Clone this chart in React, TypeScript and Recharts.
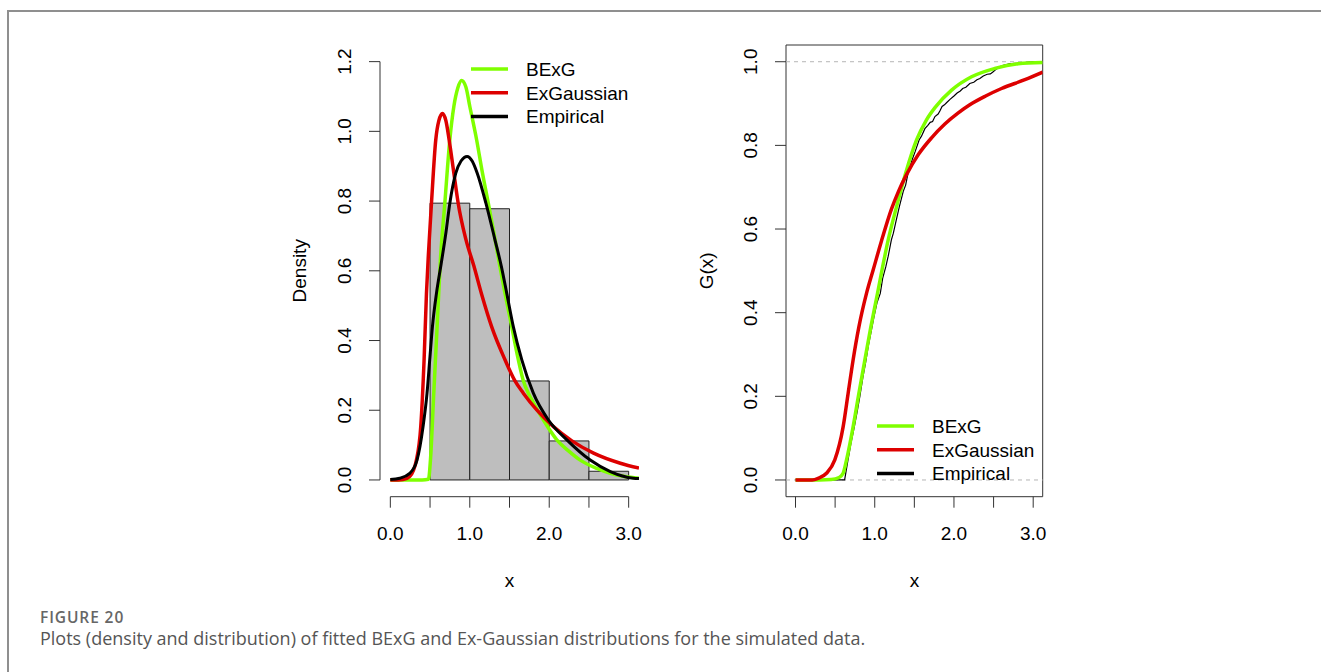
import React from "react"
import {
  ComposedChart,
  Line,
  XAxis,
  YAxis,
  ReferenceArea,
  ReferenceLine,
  Legend,
  Label,
} from "recharts"

const FONT = '"Liberation Sans", Arial, Helvetica, sans-serif'
const GREEN = "#7FFF00"
const RED = "#DD0000"
const AXIS = "#333"

// histogram of the simulated data (density scale)
const binEdges = [0.5, 1.0, 1.5, 2.0, 2.5, 3.0]
const binDensity = [0.794, 0.778, 0.284, 0.112, 0.025]

// fitted / empirical densities
const bexgPdf: [number, number][] = [
  [0, 0], [0.2, 0], [0.4, 0], [0.48, 0.002], [0.505, 0.057], [0.547, 0.25],
  [0.589, 0.44], [0.63, 0.63], [0.686, 0.794], [0.749, 0.976], [0.8, 1.072],
  [0.85, 1.125], [0.896, 1.146], [0.95, 1.128], [1.0, 1.072], [1.086, 0.976],
  [1.16, 0.88], [1.233, 0.794], [1.31, 0.7], [1.389, 0.6], [1.443, 0.536],
  [1.528, 0.44], [1.611, 0.345], [1.675, 0.284], [1.737, 0.249], [1.8, 0.222],
  [1.927, 0.172], [2.096, 0.115], [2.25, 0.082], [2.39, 0.057], [2.6, 0.033],
  [2.77, 0.019], [2.95, 0.01], [3.13, 0.005],
]

const exgPdf: [number, number][] = [
  [0, 0], [0.1, 0], [0.16, 0.001], [0.244, 0.01], [0.328, 0.057], [0.383, 0.153],
  [0.425, 0.345], [0.455, 0.536], [0.48, 0.65], [0.518, 0.794], [0.572, 0.976],
  [0.61, 1.03], [0.656, 1.051], [0.7, 1.03], [0.74, 0.976], [0.8, 0.88],
  [0.854, 0.794], [0.951, 0.69], [1.05, 0.615], [1.149, 0.533], [1.275, 0.44],
  [1.443, 0.345], [1.569, 0.284], [1.674, 0.249], [1.843, 0.201], [2.053, 0.153],
  [2.285, 0.112], [2.558, 0.077], [2.895, 0.048], [3.13, 0.034],
]

const kdePdf: [number, number][] = [
  [0, 0.001], [0.118, 0.005], [0.244, 0.019], [0.336, 0.057], [0.412, 0.153],
  [0.462, 0.249], [0.496, 0.345], [0.53, 0.44], [0.581, 0.536], [0.64, 0.62],
  [0.7, 0.71], [0.749, 0.794], [0.824, 0.88], [0.89, 0.915], [0.967, 0.928],
  [1.03, 0.915], [1.094, 0.88], [1.203, 0.794], [1.317, 0.689], [1.4, 0.61],
  [1.465, 0.536], [1.548, 0.44], [1.654, 0.345], [1.8, 0.249], [1.99, 0.172],
  [2.222, 0.115], [2.516, 0.057], [2.769, 0.024], [3.06, 0.005], [3.13, 0.004],
]

// distribution functions
const bexgCdf: [number, number][] = [
  [0, 0], [0.3, 0], [0.45, 0.001], [0.55, 0.006], [0.601, 0.016], [0.644, 0.048],
  [0.727, 0.127], [0.8, 0.207], [0.875, 0.287], [0.951, 0.366], [1.035, 0.446],
  [1.1, 0.51], [1.17, 0.574], [1.275, 0.653], [1.389, 0.733], [1.528, 0.813],
  [1.65, 0.86], [1.768, 0.892], [1.97, 0.932], [2.222, 0.964], [2.516, 0.984],
  [2.81, 0.995], [3.12, 0.998],
]

const exgCdf: [number, number][] = [
  [0, 0], [0.21, 0], [0.286, 0.004], [0.391, 0.016], [0.496, 0.048], [0.601, 0.127],
  [0.664, 0.207], [0.727, 0.287], [0.8, 0.366], [0.896, 0.446], [0.98, 0.502],
  [1.086, 0.572], [1.212, 0.648], [1.3, 0.69], [1.401, 0.73], [1.55, 0.778],
  [1.717, 0.818], [1.885, 0.851], [2.05, 0.877], [2.2, 0.897], [2.4, 0.918],
  [2.6, 0.936], [2.895, 0.957], [3.12, 0.975],
]

// empirical cdf (thin, slightly jagged)
const ecdf: [number, number][] = [
  [0, 0], [0.62, 0], [0.66, 0.045], [0.7, 0.088], [0.74, 0.125], [0.78, 0.165],
  [0.812, 0.2], [0.85, 0.245], [0.884, 0.28], [0.92, 0.322], [0.955, 0.355],
  [0.99, 0.39], [1.03, 0.425], [1.07, 0.446], [1.1, 0.482], [1.14, 0.51],
  [1.17, 0.535], [1.21, 0.574], [1.235, 0.59], [1.27, 0.62], [1.31, 0.653],
  [1.33, 0.668], [1.36, 0.69], [1.39, 0.705], [1.42, 0.733], [1.45, 0.752],
  [1.48, 0.77], [1.51, 0.785], [1.56, 0.813], [1.59, 0.822], [1.633, 0.84],
  [1.67, 0.848], [1.7, 0.855], [1.73, 0.857], [1.76, 0.869], [1.8, 0.875],
  [1.822, 0.882], [1.85, 0.893], [1.88, 0.897], [1.906, 0.902], [1.95, 0.91],
  [2.0, 0.918], [2.04, 0.925], [2.08, 0.93], [2.11, 0.936], [2.15, 0.939],
  [2.2, 0.948], [2.25, 0.951], [2.29, 0.957], [2.327, 0.96], [2.37, 0.966],
  [2.42, 0.97], [2.46, 0.971], [2.495, 0.976], [2.53, 0.982], [2.56, 0.985],
  [2.6, 0.99], [2.7, 0.995], [3.0, 1.0], [3.12, 1.0],
]

const xTicks = [0, 0.5, 1, 1.5, 2, 2.5, 3]
const densityTicks = [0, 0.2, 0.4, 0.6, 0.8, 1.0, 1.2]
const cdfTicks = [0, 0.2, 0.4, 0.6, 0.8, 1.0]
const legendNames = ["BExG", "ExGaussian", "Empirical"]
const legendColors = [GREEN, RED, "#000"]

const toPts = (arr: [number, number][]) => arr.map(([x, y]) => ({ x, y }))

const XTick = ({ x, y, payload }: any) => (
  <g>
    <line x1={x} x2={x} y1={y} y2={y + 11} stroke={AXIS} />
    {Number.isInteger(payload.value) && (
      <text x={x} y={y + 43} textAnchor="middle" fontSize={19} fontFamily={FONT} fill="#000">
        {payload.value.toFixed(1)}
      </text>
    )}
  </g>
)

const YTick = ({ x, y, payload }: any) => (
  <g>
    <line x1={x - 11} x2={x} y1={y} y2={y} stroke={AXIS} />
    <text
      x={x - 28.5}
      y={y}
      transform={`rotate(-90 ${x - 28.5} ${y})`}
      textAnchor="middle"
      fontSize={19}
      fontFamily={FONT}
      fill="#000"
    >
      {payload.value.toFixed(1)}
    </text>
  </g>
)

const LegendBox = () => (
  <svg width={200} height={72}>
    {legendNames.map((name, i) => (
      <g key={name}>
        <line x1={1} x2={38} y1={12 + i * 23.7} y2={12 + i * 23.7} stroke={legendColors[i]} strokeWidth={3.5} />
        <text x={56} y={12 + i * 23.7 + 6.8} fontSize={19} fontFamily={FONT} fill="#000">
          {name}
        </text>
      </g>
    ))}
  </svg>
)

const W = 380
const H = 600

const DensityPanel = () => {
  const xd = [-0.13, 3.13]
  const yd = [-0.048, 1.248]
  return (
    <ComposedChart width={W} height={H} margin={{ top: 44.9, right: 21, bottom: 0, left: 0 }}>
      <XAxis
        dataKey="x"
        type="number"
        domain={xd}
        ticks={xTicks}
        allowDataOverflow
        height={103.3}
        axisLine={false}
        tickLine={false}
        tickSize={0}
        tickMargin={0}
        tick={(p: any) => <XTick {...p} />}
      >
        <Label
          content={() => (
            <text x={229.5} y={587} textAnchor="middle" fontSize={19} fontFamily={FONT}>x</text>
          )}
        />
      </XAxis>
      <YAxis
        type="number"
        domain={yd}
        ticks={densityTicks}
        allowDataOverflow
        width={100}
        axisLine={false}
        tickLine={false}
        tickSize={0}
        tickMargin={0}
        tick={(p: any) => <YTick {...p} />}
      >
        <Label
          content={() => (
            <text x={26} y={270.8} transform="rotate(-90 26 270.8)" textAnchor="middle" fontSize={19} fontFamily={FONT}>
              Density
            </text>
          )}
        />
      </YAxis>
      <ReferenceLine segment={[{ x: xd[0], y: 0 }, { x: xd[0], y: 1.2 }]} stroke={AXIS} ifOverflow="visible" />
      <ReferenceLine segment={[{ x: 0, y: yd[0] }, { x: 3, y: yd[0] }]} stroke={AXIS} ifOverflow="visible" />
      {binDensity.map((h, i) => (
        <ReferenceArea
          key={i}
          x1={binEdges[i]}
          x2={binEdges[i + 1]}
          y1={0}
          y2={h}
          fill="#BEBEBE"
          fillOpacity={1}
          stroke="#222"
          strokeWidth={1}
        />
      ))}
      <Line data={toPts(bexgPdf)} dataKey="y" type="monotone" stroke={GREEN} strokeWidth={3.5} dot={false} activeDot={false} isAnimationActive={false} />
      <Line data={toPts(exgPdf)} dataKey="y" type="monotone" stroke={RED} strokeWidth={3.5} dot={false} activeDot={false} isAnimationActive={false} />
      <Line data={toPts(kdePdf)} dataKey="y" type="monotone" stroke="#000" strokeWidth={3} dot={false} activeDot={false} isAnimationActive={false} />
      <Legend
        layout="vertical"
        align="center"
        verticalAlign="middle"
        content={() => <LegendBox />}
        wrapperStyle={{ left: 190, top: 57, width: 200, height: 72 }}
      />
    </ComposedChart>
  )
}

const CdfPanel = () => {
  const xd = [-0.12, 3.12]
  const yd = [-0.04, 1.04]
  return (
    <ComposedChart width={W} height={H} margin={{ top: 45, right: 17.3, bottom: 0, left: 0 }}>
      <XAxis
        dataKey="x"
        type="number"
        domain={xd}
        ticks={xTicks}
        allowDataOverflow
        height={103.3}
        axisLine={false}
        tickLine={false}
        tickSize={0}
        tickMargin={0}
        tick={(p: any) => <XTick {...p} />}
      >
        <Label
          content={() => (
            <text x={234.4} y={587} textAnchor="middle" fontSize={19} fontFamily={FONT}>x</text>
          )}
        />
      </XAxis>
      <YAxis
        type="number"
        domain={yd}
        ticks={cdfTicks}
        allowDataOverflow
        width={106}
        axisLine={false}
        tickLine={false}
        tickSize={0}
        tickMargin={0}
        tick={(p: any) => <YTick {...p} />}
      >
        <Label
          content={() => (
            <text x={33} y={270.8} transform="rotate(-90 33 270.8)" textAnchor="middle" fontSize={19} fontFamily={FONT}>
              G(x)
            </text>
          )}
        />
      </YAxis>
      <ReferenceArea x1={xd[0]} x2={xd[1]} y1={yd[0]} y2={yd[1]} fill="none" stroke={AXIS} strokeWidth={1} />
      <ReferenceLine y={0} stroke="#B5B5B5" strokeDasharray="4 4" />
      <ReferenceLine y={1} stroke="#B5B5B5" strokeDasharray="4 4" />
      <Line data={toPts(ecdf)} dataKey="y" type="linear" stroke="#000" strokeWidth={1.2} dot={false} activeDot={false} isAnimationActive={false} />
      <Line data={toPts(bexgCdf)} dataKey="y" type="monotone" stroke={GREEN} strokeWidth={3.5} dot={false} activeDot={false} isAnimationActive={false} />
      <Line data={toPts(exgCdf)} dataKey="y" type="monotone" stroke={RED} strokeWidth={3.5} dot={false} activeDot={false} isAnimationActive={false} />
      <Legend
        layout="vertical"
        align="center"
        verticalAlign="middle"
        content={() => <LegendBox />}
        wrapperStyle={{ left: 196, top: 413.7, width: 200, height: 72 }}
      />
    </ComposedChart>
  )
}

export default function App() {
  return (
    <div
      style={{
        position: "absolute",
        left: 0,
        top: 0,
        width: 1321,
        height: 672,
        overflow: "hidden",
        background: "#fff",
      }}
    >
      <div
        style={{
          position: "absolute",
          left: 7,
          top: 10,
          width: 2000,
          height: 2000,
          borderTop: "2px solid #8f8f8f",
          borderLeft: "2px solid #8f8f8f",
        }}
      />
      <div style={{ position: "absolute", left: 280, top: 0 }}>
        <DensityPanel />
      </div>
      <div style={{ position: "absolute", left: 680, top: 0 }}>
        <CdfPanel />
      </div>
      <svg style={{ position: "absolute", left: 0, top: 590 }} width={1321} height={82}>
        <text x={40} y={33} fontSize={15.5} fontWeight={600} letterSpacing={0.9} fontFamily='"Open Sans", sans-serif' fill="#666">
          FIGURE 20
        </text>
        <text x={40} y={55} fontSize={18} fontFamily='"Open Sans", sans-serif' fill="#555">
          Plots (density and distribution) of fitted BExG and Ex-Gaussian distributions for the simulated data.
        </text>
      </svg>
    </div>
  )
}
